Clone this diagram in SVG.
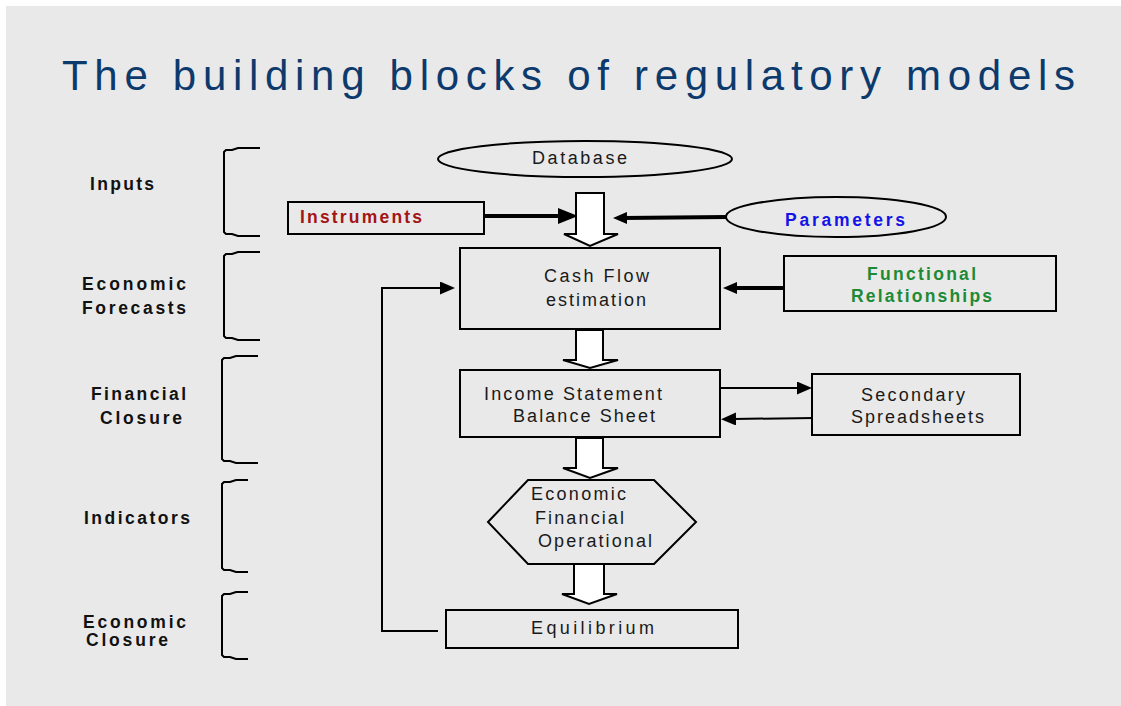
<svg xmlns="http://www.w3.org/2000/svg" width="1121" height="706" viewBox="0 0 1121 706">
<style>
.bg{fill:#E9E9E9}
.box{fill:#E9E9E9;stroke:#000;stroke-width:2}
.blk{fill:#FFFFFF;stroke:#000;stroke-width:2;stroke-linejoin:miter}
.brk{fill:none;stroke:#000;stroke-width:2}
.t{font-family:'Liberation Sans',Arial,Helvetica,sans-serif;font-size:18px;fill:#1A1A1A}
.lb{font-family:'Liberation Sans',Arial,Helvetica,sans-serif;font-size:17.5px;font-weight:bold;fill:#111}
.title{font-family:'Liberation Sans Narrow','Liberation Sans',Arial,sans-serif;font-size:42px;fill:#0D3A6C}
.thick{fill:none;stroke:#000;stroke-width:4}
.thin{fill:none;stroke:#000;stroke-width:2}
</style>
<defs>
<marker id="big" markerUnits="userSpaceOnUse" markerWidth="20" markerHeight="16" refX="4" refY="8" orient="auto"><path d="M0,0 L20,8 L0,16 z" fill="#000"/></marker>
<marker id="mid" markerUnits="userSpaceOnUse" markerWidth="14" markerHeight="12" refX="4" refY="6" orient="auto"><path d="M0,0 L14,6 L0,12 z" fill="#000"/></marker>
<marker id="sm" markerUnits="userSpaceOnUse" markerWidth="15" markerHeight="13" refX="3" refY="6.5" orient="auto"><path d="M0,0 L15,6.5 L0,13 z" fill="#000"/></marker>
</defs>
<rect class="bg" x="6" y="6" width="1115" height="700"/>
<text class="title" x="62" y="90" textLength="1013" lengthAdjust="spacing">The building blocks of regulatory models</text>

<g id="brackets">
<path class="brk" d="M260,148 H238 L232,150 H226 L224,152 V232 L226,234 H232 L238,236 H260"/>
<path class="brk" d="M260,252 H238 L232,254 H226 L224,256 V336 L226,338 H232 L238,340 H260"/>
<path class="brk" d="M258,356 H236 L230,358 H224 L222,360 V459 L224,461 H230 L236,463 H258"/>
<path class="brk" d="M248,480 H236 L230,482 H224 L222,484 V568 L224,570 H230 L236,572 H248"/>
<path class="brk" d="M248,592 H236 L230,594 H224 L222,596 V655 L224,657 H230 L236,659 H248"/>
</g>
<g id="labels">
<text class="lb" x="90" y="190" textLength="64" lengthAdjust="spacing">Inputs</text>
<text class="lb" x="82" y="290" textLength="104" lengthAdjust="spacing">Economic</text>
<text class="lb" x="82" y="314" textLength="104" lengthAdjust="spacing">Forecasts</text>
<text class="lb" x="91" y="400" textLength="95" lengthAdjust="spacing">Financial</text>
<text class="lb" x="100" y="424" textLength="82" lengthAdjust="spacing">Closure</text>
<text class="lb" x="84" y="524" textLength="106" lengthAdjust="spacing">Indicators</text>
<text class="lb" x="83" y="628" textLength="103" lengthAdjust="spacing">Economic</text>
<text class="lb" x="86" y="646" textLength="82" lengthAdjust="spacing">Closure</text>
</g>

<g id="connectors">
<line class="thick" x1="484" y1="216" x2="562" y2="216" marker-end="url(#big)"/>
<line class="thick" x1="726" y1="217" x2="623" y2="218" marker-end="url(#mid)"/>
<line class="thick" x1="784" y1="288" x2="733" y2="288" marker-end="url(#mid)"/>
<line class="thin" x1="720" y1="388" x2="800" y2="388" marker-end="url(#sm)"/>
<line class="thin" x1="814" y1="418" x2="733" y2="419" marker-end="url(#sm)"/>
<polyline class="thin" points="438,631 382,631 382,288 443,288" marker-end="url(#sm)"/>
<polygon class="blk" points="576,193 604,193 604,234 618,234 590,246 564,234 576,234"/>
<polygon class="blk" points="576,330 603,330 603,360 618,360 590,368 563,360 576,360"/>
<polygon class="blk" points="576,438 603,438 603,468 618,468 590,478 563,468 576,468"/>
<polygon class="blk" points="574,564 604,564 604,594 617,594 589,604 562,594 574,594"/>
</g>

<g id="database">
<ellipse class="box" cx="585" cy="159" rx="147" ry="18"/>
<text class="t" x="532" y="164" textLength="95" lengthAdjust="spacing">Database</text>
</g>
<g id="instruments">
<rect class="box" x="288" y="202" width="196" height="32"/>
<text class="lb" x="300" y="223" style="fill:#A31515" textLength="122" lengthAdjust="spacing">Instruments</text>
</g>
<g id="parameters">
<ellipse class="box" cx="836" cy="217" rx="110" ry="20"/>
<text class="lb" x="785" y="226" style="fill:#1414E6" textLength="120" lengthAdjust="spacing">Parameters</text>
</g>
<g id="cashflow">
<rect class="box" x="460" y="248" width="260" height="81"/>
<text class="t" x="544" y="282" textLength="105" lengthAdjust="spacing">Cash Flow</text>
<text class="t" x="546" y="306" textLength="100" lengthAdjust="spacing">estimation</text>
</g>
<g id="functional">
<rect class="box" x="784" y="256" width="272" height="55"/>
<text class="lb" x="867" y="280" style="fill:#1E8A35" textLength="109" lengthAdjust="spacing">Functional</text>
<text class="lb" x="851" y="302" style="fill:#1E8A35" textLength="141" lengthAdjust="spacing">Relationships</text>
</g>
<g id="income">
<rect class="box" x="460" y="370" width="260" height="67"/>
<text class="t" x="484" y="400" textLength="178" lengthAdjust="spacing">Income Statement</text>
<text class="t" x="513" y="422" textLength="142" lengthAdjust="spacing">Balance Sheet</text>
</g>
<g id="secondary">
<rect class="box" x="812" y="374" width="208" height="61"/>
<text class="t" x="861" y="401" textLength="104" lengthAdjust="spacing">Secondary</text>
<text class="t" x="851" y="423" textLength="133" lengthAdjust="spacing">Spreadsheets</text>
</g>
<g id="indicators">
<polygon class="box" points="488,522 528,480 654,480 696,522 654,564 528,564"/>
<text class="t" x="531" y="500" textLength="95" lengthAdjust="spacing">Economic</text>
<text class="t" x="535" y="524" textLength="89" lengthAdjust="spacing">Financial</text>
<text class="t" x="538" y="547" textLength="114" lengthAdjust="spacing">Operational</text>
</g>
<g id="equilibrium">
<rect class="box" x="446" y="610" width="292" height="38"/>
<text class="t" x="531" y="634" textLength="123" lengthAdjust="spacing">Equilibrium</text>
</g>
</svg>
